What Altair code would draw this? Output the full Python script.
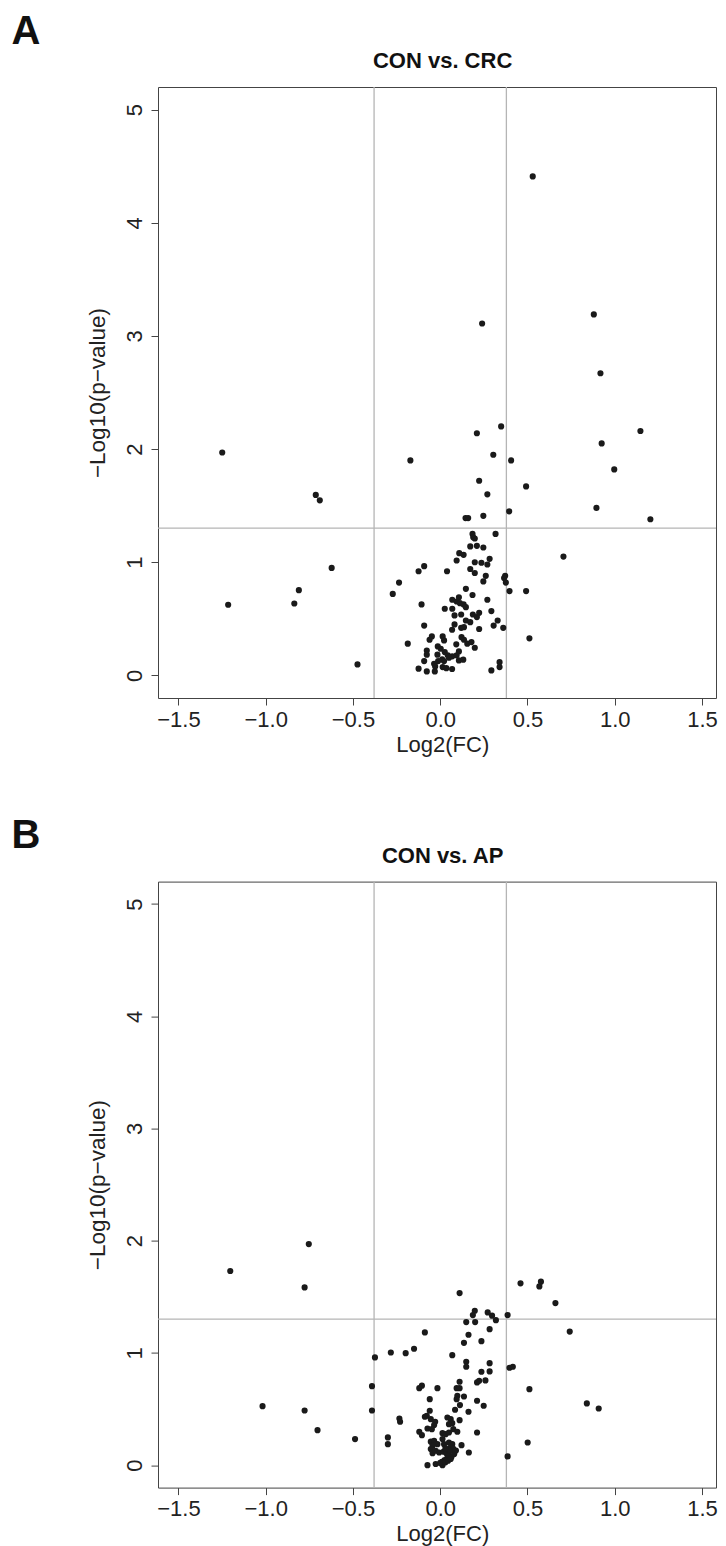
import altair as alt
import pandas as pd

# ---------------- data ----------------
a_log2fc = [0.53, 0.24, 0.88, 0.918, 0.349, 0.21, 1.147, 0.925, 0.304, 0.406, -0.171, -1.249,
            0.997, 0.223, 0.492, 0.27, -0.713, -0.69, 0.895, 0.395, 0.145, 0.16, 0.247, 1.204,
            0.317, 0.185, 0.189, 0.198, 0.172, 0.21, 0.247, 0.109, 0.134, 0.283, 0.094, 0.198,
            0.236, 0.27, 0.706, -0.092, -0.124, 0.039, 0.172, 0.198, 0.261, 0.372, 0.366, 0.376,
            0.247, -0.236, -0.272, 0.397, 0.492, 0.147, 0.185, -0.622, -0.81, -0.836, -1.215, -0.474,
            -0.107, 0.069, 0.107, 0.094, 0.113, 0.134, 0.147, 0.27, 0.026, 0.069, 0.293, 0.082,
            0.12, 0.187, 0.21, 0.223, 0.147, 0.172, 0.329, 0.306, -0.092, 0.082, 0.12, 0.136,
            0.068, 0.223, 0.361, -0.048, -0.061, 0.014, 0.022, 0.122, 0.136, 0.511, 0.155, 0.179,
            0.198, -0.186, -0.014, 0.003, 0.092, -0.077, -0.077, 0.026, 0.043, 0.069, 0.094, 0.107,
            -0.016, 0.011, -0.012, 0.022, 0.05, 0.107, 0.132, -0.092, -0.035, -0.029, 0.014, 0.035,
            0.068, -0.124, -0.077, -0.031, 0.34, 0.34, 0.293]
a_neglog10p = [4.41, 3.11, 3.19, 2.67, 2.20, 2.14, 2.16, 2.05, 1.95, 1.90, 1.90, 1.97,
               1.82, 1.72, 1.67, 1.60, 1.595, 1.547, 1.48, 1.45, 1.39, 1.39, 1.41, 1.38,
               1.25, 1.25, 1.22, 1.21, 1.14, 1.145, 1.13, 1.08, 1.065, 1.03, 1.015, 1.0,
               0.995, 0.98, 1.05, 0.965, 0.92, 0.92, 0.94, 0.905, 0.88, 0.88, 0.86, 0.82,
               0.83, 0.82, 0.72, 0.745, 0.745, 0.765, 0.71, 0.95, 0.753, 0.635, 0.624, 0.097,
               0.627, 0.668, 0.69, 0.653, 0.638, 0.627, 0.603, 0.668, 0.589, 0.589, 0.568, 0.53,
               0.538, 0.538, 0.515, 0.553, 0.485, 0.47, 0.485, 0.44, 0.44, 0.45, 0.42, 0.426,
               0.403, 0.41, 0.42, 0.344, 0.315, 0.344, 0.309, 0.338, 0.315, 0.327, 0.28, 0.294,
               0.244, 0.28, 0.256, 0.235, 0.274, 0.22, 0.183, 0.206, 0.177, 0.168, 0.177, 0.212,
               0.183, 0.141, 0.126, 0.126, 0.156, 0.132, 0.139, 0.126, 0.103, 0.079, 0.073, 0.064,
               0.056, 0.059, 0.035, 0.035, 0.117, 0.073, 0.044]

b_log2fc = [0.46, 0.577, 0.568, 0.66, 0.111, 0.198, 0.187, 0.272, 0.297, 0.319, 0.386, 0.149,
            0.2, -0.753, -1.203, -0.777, -0.088, 0.283, 0.742, 0.162, 0.136, 0.236, -0.15, -0.283,
            -0.198, -0.374, 0.069, 0.149, 0.149, 0.283, 0.283, 0.236, 0.397, 0.416, 0.111, 0.211,
            0.223, 0.259, -0.391, -0.12, -0.105, -0.016, 0.094, 0.111, 0.511, 0.84, 0.908, -1.018,
            -0.777, -0.391, -0.703, -0.488, -0.06, 0.098, 0.136, 0.094, 0.113, 0.211, 0.249, 0.085,
            0.162, -0.234, -0.23, -0.06, -0.077, -0.088, -0.054, -0.029, -0.035, -0.073, -0.048, 0.041,
            0.06, 0.069, 0.05, 0.111, 0.075, 0.098, 0.211, 0.501, -0.12, -0.105, -0.3, -0.3,
            0.013, 0.031, 0.05, -0.054, -0.035, -0.016, -0.044, 0.013, 0.022, 0.05, 0.069, 0.06,
            0.122, 0.164, -0.054, -0.044, -0.026, -0.006, -0.073, -0.026, 0.013, 0.386, 0.02, 0.035,
            0.05, 0.065, 0.04, 0.025, 0.01, 0.0, 0.03, 0.045, 0.06, 0.08, 0.09, 0.075, 0.055, 0.03]
b_neglog10p = [1.62, 1.635, 1.593, 1.444, 1.533, 1.376, 1.337, 1.361, 1.332, 1.292, 1.337, 1.275,
               1.275, 1.97, 1.73, 1.584, 1.183, 1.212, 1.19, 1.162, 1.09, 1.105, 1.037, 1.004,
               0.998, 0.96, 0.98, 0.921, 0.877, 0.909, 0.835, 0.832, 0.868, 0.877, 0.743, 0.737,
               0.752, 0.755, 0.704, 0.686, 0.708, 0.686, 0.686, 0.686, 0.677, 0.55, 0.505, 0.526,
               0.487, 0.487, 0.312, 0.232, 0.588, 0.618, 0.612, 0.588, 0.535, 0.574, 0.529, 0.494,
               0.476, 0.416, 0.387, 0.485, 0.44, 0.431, 0.41, 0.387, 0.357, 0.327, 0.321, 0.425,
               0.41, 0.374, 0.365, 0.401, 0.321, 0.298, 0.291, 0.202, 0.298, 0.267, 0.247, 0.187,
               0.285, 0.276, 0.291, 0.209, 0.217, 0.187, 0.173, 0.232, 0.187, 0.202, 0.187, 0.158,
               0.178, 0.113, 0.143, 0.107, 0.128, 0.113, 0.0, 0.01, 0.0, 0.078, 0.12, 0.105,
               0.09, 0.075, 0.06, 0.045, 0.03, 0.02, 0.025, 0.04, 0.055, 0.1, 0.13, 0.145, 0.13, 0.15]

fc_cutoffs = [-0.379, 0.379]
p_cutoff = [1.301]
x_ticks = [-1.5, -1.0, -0.5, 0.0, 0.5, 1.0, 1.5]
y_ticks = [0, 1, 2, 3, 4, 5]
panel_letters = ["A", "B"]
panel_titles = ["CON vs. CRC", "CON vs. AP"]

# ---------------- styling ----------------
X_DOMAIN = [-1.617, 1.58]
Y_DOMAIN = [-0.2, 5.2]
W = 558
AX_FONT = "Liberation Sans, Arial, Helvetica, sans-serif"
BOLD_FONT = "Liberation Sans, Arial, Helvetica, sans-serif"


def panel(xs, ys, letter, title, height, letter_y, title_y):
    df = pd.DataFrame({"fc": xs, "p": ys})
    xscale = alt.Scale(domain=X_DOMAIN, nice=False, zero=False)
    yscale = alt.Scale(domain=Y_DOMAIN, nice=False, zero=False)
    xaxis = alt.Axis(values=x_ticks, format=".1f", title="Log2(FC)", grid=False, domain=False,
                     tickSize=7, labelPadding=21, labelBaseline="alphabetic", labelFlush=False,
                     labelOverlap=False, labelFontSize=22, titleFontSize=22,
                     titleFontWeight="normal", titleX=284.3, titleY=53,
                     titleAlign="center", titleBaseline="alphabetic")
    yaxis = alt.Axis(values=y_ticks, format="d", title="\u2212Log10(p\u2212value)", grid=False,
                     domain=False, tickSize=7, labelAngle=270, labelAlign="center",
                     labelBaseline="alphabetic", labelPadding=10, labelFlush=False,
                     labelOverlap=False, labelFontSize=22, titleFontSize=22.5,
                     titleFontWeight="normal", titleAngle=270, titleX=-53.4, titleY=height / 2,
                     titleAlign="center", titleBaseline="alphabetic")

    vrules = alt.Chart(pd.DataFrame({"fc": fc_cutoffs})).mark_rule(
        color="#b5b5b5", strokeWidth=1.3).encode(
        x=alt.X("fc:Q", scale=xscale, axis=xaxis))
    hrule = alt.Chart(pd.DataFrame({"p": p_cutoff})).mark_rule(
        color="#b5b5b5", strokeWidth=1.3).encode(
        y=alt.Y("p:Q", scale=yscale, axis=yaxis))
    pts = alt.Chart(df).mark_circle(size=38, color="#1a1a1a", opacity=1).encode(
        x=alt.X("fc:Q", scale=xscale, axis=xaxis),
        y=alt.Y("p:Q", scale=yscale, axis=yaxis))
    let = alt.Chart(pd.DataFrame({"t": [letter]})).mark_text(
        align="left", baseline="alphabetic", fontSize=40, fontWeight="bold",
        font=BOLD_FONT, color="#111111").encode(
        text="t:N", x=alt.value(-146.4), y=alt.value(letter_y))
    ttl = alt.Chart(pd.DataFrame({"t": [title]})).mark_text(
        align="center", baseline="alphabetic", fontSize=22, fontWeight="bold",
        font=BOLD_FONT, color="#111111").encode(
        text="t:N", x=alt.value(284.6), y=alt.value(title_y))
    return alt.layer(vrules, hrule, pts, let, ttl).properties(width=W, height=height)


pa = panel(a_log2fc, a_neglog10p, panel_letters[0], panel_titles[0], 611, -43, -19.3)
pb = panel(b_log2fc, b_neglog10p, panel_letters[1], panel_titles[1], 606, -34, -19)

chart = alt.vconcat(pa, pb, spacing=58.6).properties(
    padding={"left": 3, "top": 3, "right": 0, "bottom": 0},
    background="white",
).configure_view(stroke="#444444", strokeWidth=1).configure_axis(
    labelFont=AX_FONT, titleFont=AX_FONT, labelColor="#222222", titleColor="#222222",
    tickColor="#444444", tickWidth=1)

chart.save("out.html", embed_options={"renderer": "svg", "actions": False})
